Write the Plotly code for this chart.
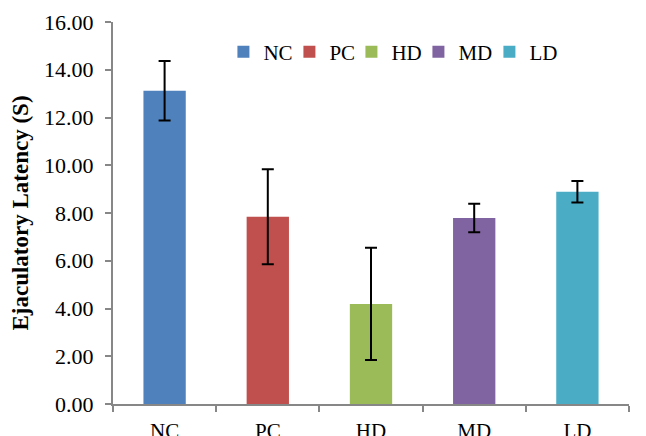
import plotly.graph_objects as go

categories = ["NC", "PC", "HD", "MD", "LD"]
means = [13.12, 7.84, 4.19, 7.79, 8.89]
errors = [1.25, 1.99, 2.35, 0.60, 0.45]
colors = ["#4F81BD", "#C0504D", "#9BBB59", "#8064A2", "#4BACC6"]
y_ticks = [0, 2, 4, 6, 8, 10, 12, 14, 16]

# legend entry widths (style only)
legend_widths = [21, 17, 22, 26, 28]

FONT = "Liberation Serif, Times New Roman, serif"
AXIS_GRAY = "#878787"

fig = go.Figure()
for cat, m, e, c, lw in zip(categories, means, errors, colors, legend_widths):
    fig.add_trace(go.Bar(
        x=[cat], y=[m], name=cat, legendwidth=lw,
        marker=dict(color=c, line=dict(width=0)),
        error_y=dict(type="data", array=[e], visible=True,
                     color="black", thickness=2, width=6),
    ))

# page body has an 8px default margin; margins compensate for it
fig.update_layout(
    width=646, height=436,
    margin=dict(l=105, r=25, t=14, b=40, autoexpand=False),
    paper_bgcolor="white", plot_bgcolor="white",
    barmode="overlay", bargap=0.59,
    font=dict(family=FONT, size=21, color="black"),
    showlegend=True,
    legend=dict(orientation="h", x=0.214, xanchor="left", y=0.921,
                yanchor="middle", font=dict(size=21, family=FONT),
                bgcolor="rgba(0,0,0,0)", traceorder="normal",
                itemwidth=30, tracegroupgap=0),
)
fig.update_xaxes(
    categoryorder="array", categoryarray=categories,
    showline=True, linecolor=AXIS_GRAY, linewidth=2,
    ticks="outside", tickson="boundaries", ticklen=6, tickcolor=AXIS_GRAY, tickwidth=2,
    showgrid=False, zeroline=False, automargin=False,
    ticklabelstandoff=7,
    tickfont=dict(size=21, family=FONT),
)
fig.update_yaxes(
    range=[0, 16], tickvals=y_ticks, tickformat=".2f",
    showline=True, linecolor=AXIS_GRAY, linewidth=2,
    ticks="outside", ticklen=6, tickcolor=AXIS_GRAY, tickwidth=2,
    showgrid=False, zeroline=False, automargin=False,
    ticklabelstandoff=7,
    tickfont=dict(size=22, family=FONT),
    title=dict(text="<b>Ejaculatory Latency (S)</b>", font=dict(size=23, family=FONT)),
)

fig.write_html("out.html")
